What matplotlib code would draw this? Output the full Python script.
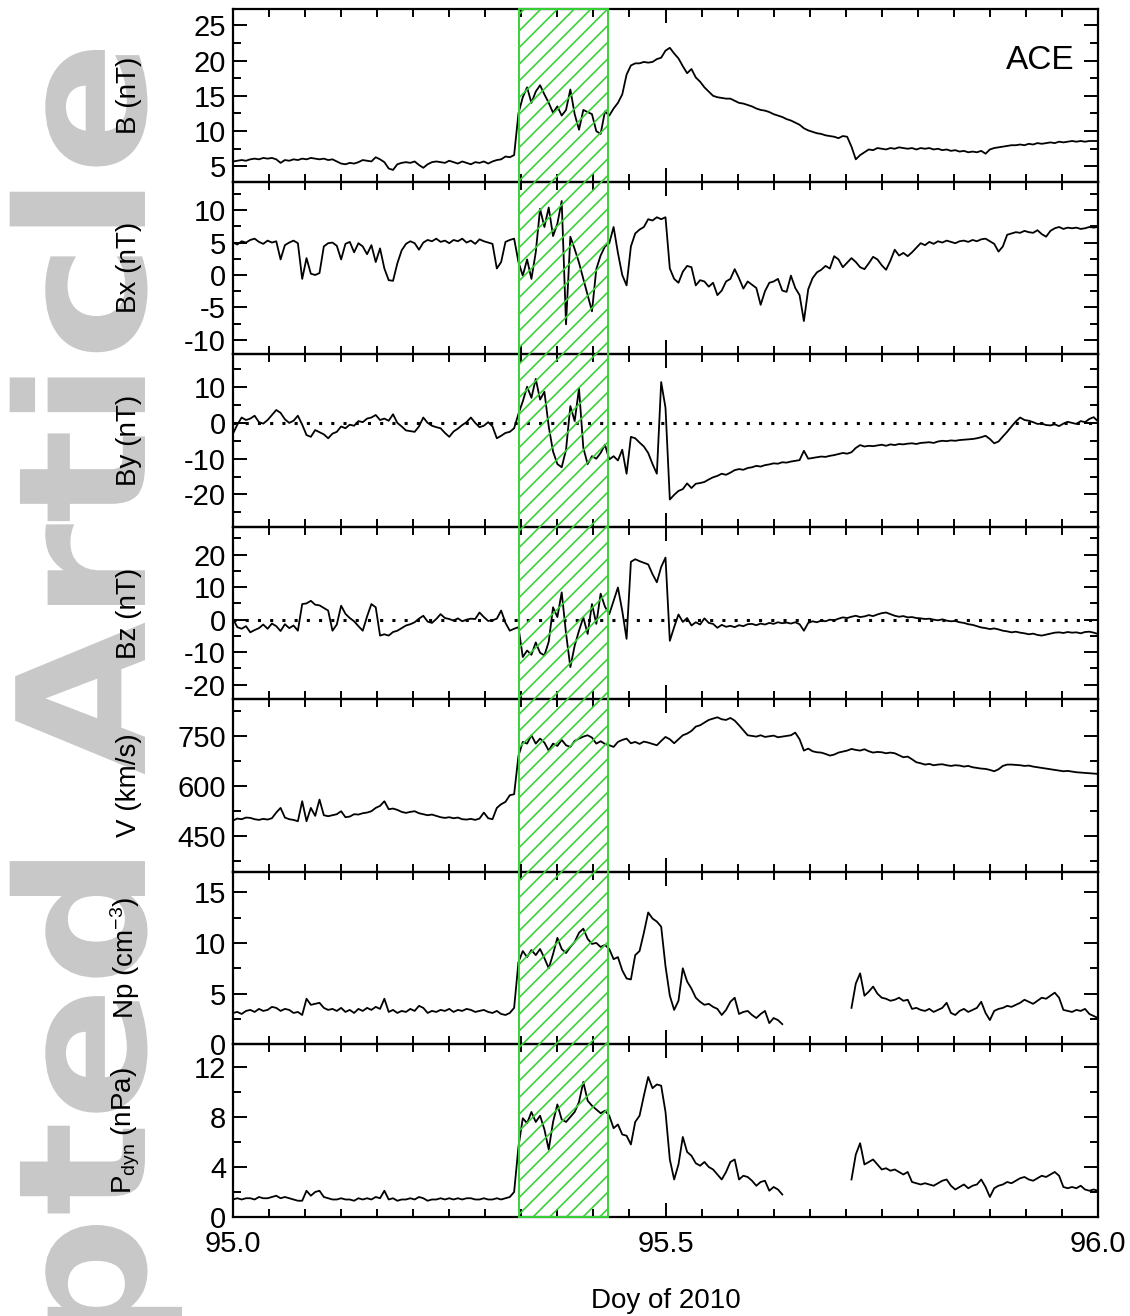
import numpy as np
import matplotlib.pyplot as plt
import matplotlib.transforms as mtransforms
from matplotlib.patches import Rectangle, PathPatch
from matplotlib.textpath import TextPath
from matplotlib.font_manager import FontProperties
from matplotlib.ticker import MultipleLocator, FormatStrFormatter

plt.rcParams['font.family'] = ['Liberation Sans', 'DejaVu Sans']
plt.rcParams['mathtext.fontset'] = 'custom'
plt.rcParams['mathtext.rm'] = 'Liberation Sans'
plt.rcParams['mathtext.default'] = 'regular'
plt.rcParams['axes.unicode_minus'] = False
plt.rcParams['hatch.linewidth'] = 1.2

nan = np.nan
# day of year 2010, one sample every 0.005 day
doy = 95 + 0.005 * np.arange(201)

B = [5.7,5.8,5.9,5.8,6.0,6.1,6.0,6.2,6.1,6.2,6.0,5.5,5.9,5.8,6.0,5.9,6.1,6.0,6.2,6.1,
     6.0,6.1,5.9,6.0,5.7,5.4,5.3,5.5,5.4,5.6,5.9,5.8,5.7,6.3,6.0,5.6,4.7,4.5,5.3,5.5,
     5.6,5.5,5.7,5.2,4.8,5.3,5.6,5.7,5.6,5.5,5.8,5.6,5.4,5.7,5.5,5.3,5.6,5.5,5.7,5.4,
     5.7,5.9,6.0,6.4,6.3,6.6,12.5,14.8,16.2,14.0,15.6,16.5,15.2,14.0,12.6,13.5,12.2,13.0,15.9,12.4,
     10.2,13.0,12.7,12.4,10.0,9.6,12.8,12.2,13.2,14.0,15.2,18.0,19.3,19.6,19.6,19.8,19.7,19.8,20.2,20.4,
     21.4,21.8,21.0,20.3,19.2,18.2,18.8,17.6,17.0,16.2,15.6,15.0,14.8,14.7,14.6,14.6,14.3,14.0,13.9,13.7,
     13.5,13.2,13.0,12.9,12.7,12.4,12.2,12.0,11.7,11.5,11.2,10.9,10.4,10.1,9.9,9.7,9.6,9.4,9.3,9.2,
     9.0,9.3,9.2,7.8,6.0,6.6,7.0,7.4,7.3,7.6,7.5,7.4,7.6,7.5,7.7,7.6,7.5,7.6,7.4,7.6,
     7.5,7.6,7.4,7.5,7.3,7.4,7.2,7.3,7.1,7.2,7.0,7.1,7.0,7.2,6.8,7.4,7.6,7.7,7.8,7.9,
     8.0,8.0,8.1,8.0,8.2,8.1,8.3,8.2,8.3,8.4,8.3,8.5,8.4,8.5,8.6,8.5,8.6,8.5,8.6,8.6,8.6]

Bx = [5.0,4.7,5.2,5.0,5.4,5.6,5.1,4.8,5.3,5.0,5.2,2.4,4.6,5.0,5.3,4.9,-0.6,2.6,0.2,0.0,
      0.3,4.4,4.9,5.0,4.5,2.4,4.8,5.1,3.5,4.9,4.4,3.2,4.6,2.0,4.1,1.0,-0.8,-0.9,1.8,3.8,
      4.8,5.2,4.9,3.9,5.0,5.4,5.2,5.6,5.1,5.3,4.9,5.4,5.2,5.6,5.0,5.3,4.8,5.5,5.2,5.0,
      4.8,1.0,2.0,5.1,5.4,5.6,2.0,-0.1,2.4,-0.6,3.5,10.2,7.4,10.4,6.0,7.9,11.4,-7.6,5.9,4.0,
      1.9,-0.6,-3.1,-5.6,0.9,3.0,4.4,4.9,7.4,3.4,0.0,-1.6,4.4,6.4,7.0,7.4,8.6,8.4,8.9,8.6,
      8.9,1.0,-0.6,-1.2,0.5,1.4,1.2,-1.6,-0.8,-1.0,-1.8,-1.2,-3.1,-2.4,-1.0,-0.6,0.9,-0.5,-2.1,-1.0,
      -1.5,-2.0,-4.6,-2.5,-1.2,-1.0,-0.6,-2.4,-2.6,-0.1,-2.0,-3.1,-7.1,-2.2,-0.5,0.4,0.8,1.4,1.0,2.9,
      2.4,1.2,1.9,2.6,2.0,1.2,0.9,1.8,2.8,2.4,1.5,0.8,2.2,3.9,3.0,3.4,2.9,3.5,4.2,4.9,
      4.6,5.1,4.8,5.2,5.0,5.3,5.1,4.9,5.2,5.3,5.1,5.4,5.2,5.5,5.6,5.2,4.8,3.6,4.4,6.2,
      6.4,6.6,6.5,6.8,6.6,6.5,6.9,6.3,5.9,6.8,7.2,7.4,7.1,7.3,7.2,7.3,7.1,7.2,7.4,7.3,7.4]

By = [-3.0,-0.5,1.5,0.8,1.2,2.0,0.2,-0.2,0.8,2.2,3.6,2.8,1.0,0.0,0.6,2.0,-0.5,-3.4,-3.9,-2.0,
      -2.6,-3.2,-4.3,-3.0,-2.5,-1.0,-1.5,-0.5,-0.8,0.5,0.2,1.2,1.5,2.2,0.8,1.2,0.6,2.4,0.0,-1.0,
      -2.1,-2.3,-2.5,-1.0,1.5,0.0,-0.8,-1.2,-1.5,-2.8,-3.9,-2.4,-1.6,-0.6,0.2,1.5,0.0,-1.2,-0.8,0.2,
      -1.0,-4.3,-3.6,-2.8,-2.5,-1.5,2.5,6.0,10.1,7.0,12.3,6.5,8.7,-1.0,-8.0,-11.5,-12.4,-7.5,4.7,0.5,
      9.6,-7.0,-11.5,-9.3,-10.0,-8.4,-6.1,-10.2,-9.3,-10.5,-7.5,-14.2,-3.9,-4.3,-5.5,-6.6,-8.4,-11.5,-14.2,11.4,
      4.2,-21.4,-20.1,-19.0,-18.5,-16.9,-18.2,-17.0,-16.8,-16.5,-15.8,-15.2,-14.8,-14.2,-14.5,-13.9,-13.2,-12.9,-13.1,-12.6,
      -12.4,-12.0,-12.2,-11.8,-11.6,-11.3,-11.4,-11.0,-11.1,-10.8,-10.6,-10.4,-7.8,-10.0,-9.8,-9.6,-9.4,-9.5,-9.2,-9.0,
      -8.7,-8.4,-8.6,-8.2,-7.0,-6.2,-6.6,-6.4,-6.5,-6.3,-6.1,-6.4,-6.0,-6.2,-5.9,-6.0,-5.8,-5.7,-5.9,-5.6,
      -5.5,-5.4,-5.6,-5.2,-5.0,-5.1,-4.9,-5.0,-4.8,-4.7,-4.6,-4.5,-4.3,-4.0,-3.6,-4.5,-5.7,-5.2,-3.8,-2.5,
      -1.0,0.4,1.5,0.8,0.6,0.2,-0.3,-0.2,-0.6,-0.7,-0.4,-0.9,-0.2,0.3,0.0,-0.3,0.5,0.2,1.1,1.6,0.4]

Bz = [0.2,-2.3,-2.8,-2.0,-3.9,-3.2,-2.6,-1.5,-2.8,-1.2,-2.0,-3.5,-1.4,-2.6,-1.8,-3.4,4.8,5.0,5.8,4.6,
      4.4,3.6,2.8,-3.4,-1.5,4.3,1.8,0.5,-0.5,-2.0,-3.4,1.0,4.8,3.8,-4.9,-4.5,-4.9,-3.8,-3.4,-2.6,
      -1.8,-1.4,-0.8,0.3,1.2,-0.6,-1.0,0.2,1.7,0.5,0.2,-0.3,0.4,-0.5,0.0,0.3,0.2,2.2,0.8,-0.4,
      -0.2,0.3,2.8,-1.0,-3.4,-2.8,-2.3,-11.5,-9.5,-10.8,-7.0,-10.2,-11.0,-6.8,3.8,0.8,8.4,-4.2,-14.6,-8.0,
      -3.4,0.7,-4.4,4.8,-1.3,8.0,4.0,1.7,5.8,9.9,2.7,-5.9,17.8,18.6,18.0,17.5,17.0,14.0,11.5,16.2,
      19.1,-6.5,-2.3,1.6,-0.7,0.5,-1.8,-0.8,-1.5,0.4,-1.0,-1.3,-2.5,-1.6,-2.2,-1.9,-2.3,-1.7,-2.0,-1.4,
      -1.3,-1.7,-1.2,-1.5,-1.0,-1.3,-0.8,-1.1,-0.9,-1.2,-0.8,-1.4,-3.4,-1.0,-0.5,-0.8,-0.3,-0.5,0.0,-0.2,
      0.3,0.7,0.5,0.9,1.2,0.8,1.0,1.4,1.1,1.6,2.0,2.2,1.7,1.2,0.9,1.1,0.7,0.8,0.5,0.4,
      0.2,0.3,0.0,-0.2,0.1,-0.3,-0.5,-0.4,-0.8,-1.0,-1.4,-1.6,-2.0,-2.4,-2.6,-2.9,-2.7,-3.0,-3.4,-3.6,
      -3.9,-3.7,-4.0,-4.2,-4.5,-4.3,-4.7,-4.9,-4.6,-4.3,-4.0,-3.9,-4.1,-3.8,-4.0,-3.9,-4.2,-3.8,-3.7,-4.0,-4.4]

V = [496,502,500,505,504,500,498,501,499,503,520,534,505,500,498,494,554,494,534,510,
     559,512,509,512,515,524,506,508,515,514,518,520,524,534,540,554,530,532,528,522,
     519,522,524,518,515,512,514,510,506,504,506,503,505,500,499,501,498,502,520,503,
     500,534,545,552,572,575,690,732,727,752,727,742,730,706,727,720,738,722,717,735,
     742,748,752,745,727,734,726,722,717,732,738,742,728,732,726,733,730,726,722,735,
     747,740,728,740,752,757,765,778,782,790,798,802,806,800,798,804,796,782,767,752,
     750,748,752,747,749,751,746,748,750,752,760,740,706,712,704,701,700,696,691,694,
     700,703,706,711,708,706,710,704,700,702,701,698,700,698,692,686,688,680,671,668,
     664,666,662,664,665,662,660,662,661,658,660,656,654,652,651,648,644,650,660,664,
     664,663,662,660,661,658,656,654,652,650,648,646,644,645,643,641,640,639,638,637,636]

Np = [3.1,3.2,3.0,3.3,3.4,3.2,3.5,3.3,3.4,3.7,3.6,3.3,3.5,3.4,3.1,3.2,2.9,4.5,3.9,4.0,
      4.1,3.6,3.4,3.5,3.3,3.6,3.2,3.4,3.1,3.5,3.3,3.6,3.4,3.7,3.5,4.5,3.2,3.4,3.1,3.3,
      3.2,3.5,3.3,3.8,3.6,3.1,3.3,3.2,3.4,3.3,3.5,3.2,3.4,3.3,3.5,3.4,3.2,3.3,3.4,3.2,
      3.1,3.3,3.0,2.9,3.1,3.6,8.1,9.2,8.6,9.3,8.8,9.4,8.5,7.5,8.9,10.5,9.4,9.0,9.6,10.1,
      11.0,11.4,10.4,9.9,10.0,9.6,9.8,9.4,8.4,8.6,7.3,6.5,6.4,8.8,9.2,11.0,13.0,12.4,12.1,11.6,
      7.7,4.8,3.4,4.3,7.5,6.2,5.5,4.6,4.2,3.9,4.0,3.7,3.5,2.9,3.4,4.2,4.6,3.0,3.2,3.3,
      2.9,2.6,3.0,3.3,2.1,2.6,2.4,2.0,nan,nan,nan,nan,nan,nan,nan,nan,nan,nan,nan,nan,
      nan,nan,nan,3.6,6.0,7.0,4.8,5.2,5.7,5.0,4.6,4.5,4.3,4.4,4.6,4.3,4.4,3.5,3.6,3.4,
      3.3,3.5,3.2,3.4,3.6,4.1,3.1,2.9,3.3,3.5,3.2,3.4,3.6,4.2,3.1,2.4,3.3,3.5,3.6,3.8,
      3.7,3.9,4.1,4.4,4.2,4.0,4.3,4.6,4.5,4.8,5.1,4.6,3.4,3.3,3.2,3.4,3.3,3.5,3.0,2.8,2.6]

Pdyn = [1.4,1.5,1.4,1.5,1.5,1.4,1.6,1.5,1.5,1.6,1.7,1.5,1.6,1.5,1.4,1.3,1.3,2.1,1.7,2.0,
        2.1,1.6,1.5,1.4,1.4,1.5,1.4,1.4,1.3,1.5,1.4,1.5,1.4,1.6,1.5,2.1,1.4,1.5,1.3,1.4,
        1.4,1.5,1.4,1.6,1.5,1.3,1.4,1.4,1.5,1.4,1.5,1.4,1.5,1.4,1.5,1.5,1.4,1.4,1.5,1.4,
        1.4,1.5,1.4,1.5,1.6,2.0,5.6,7.9,7.5,8.4,7.6,8.1,7.0,5.4,7.6,9.0,7.8,7.6,8.0,8.4,
        9.2,10.8,9.3,8.9,8.6,8.3,8.5,8.1,7.1,7.4,6.6,6.5,5.8,7.6,8.1,9.7,11.2,10.3,10.6,10.5,
        8.4,4.6,3.0,4.2,6.4,5.2,4.9,4.3,4.1,4.4,4.0,3.8,3.4,3.0,3.6,4.4,4.6,3.0,3.3,3.2,
        2.9,2.5,2.8,2.9,2.1,2.4,2.2,1.8,nan,nan,nan,nan,nan,nan,nan,nan,nan,nan,nan,nan,
        nan,nan,nan,3.0,5.0,5.9,4.2,4.4,4.6,4.2,3.8,3.9,3.7,3.8,3.6,3.4,3.6,2.8,2.7,2.6,
        2.7,2.6,2.5,2.7,2.9,3.0,2.5,2.2,2.4,2.6,2.3,2.5,2.6,3.0,2.4,1.6,2.3,2.5,2.6,2.8,
        2.7,2.9,3.1,3.2,3.0,2.9,3.1,3.3,3.2,3.4,3.6,3.3,2.4,2.3,2.4,2.3,2.5,2.2,2.1,2.2,2.1]

labels = ['B (nT)', 'Bx (nT)', 'By (nT)', 'Bz (nT)', 'V (km/s)',
          'Np (cm$^{-3}$)', 'P$_{dyn}$ (nPa)']
ylims = [(2.85, 27.3), (-12.2, 14.4), (-29, 19.2), (-24.5, 28.6), (342, 860), (0, 17), (0, 13.8)]
ymajor = [5, 5, 10, 10, 150, 5, 4]
yminor = [2.5, 2.5, 5, 5, 75, 2.5, 2]
event = (95.331, 95.434)   # hatched interval
green = '#3ad13a'

fig = plt.figure(figsize=(11.3, 13.16), dpi=100)
left, right = 233/1130, 1098/1130
top, bottom = 1 - 9/1316, 1 - 1217/1316
h = (top - bottom) / 7

# watermark, stretched along the page height
fp = FontProperties(family='DejaVu Sans', weight='bold')
wm = TextPath((0, 0), 'Accepted Article', size=1, prop=fp)
u_end = wm.get_extents().x1
u_t = TextPath((0, 0), 'Accep', size=1, prop=fp).get_extents().x1
sx = (1266 - 91) / (u_end - u_t)
sy = 130 / 0.73
wtr = mtransforms.Affine2D().scale(sx, sy).rotate_deg(90).translate(145, 91 - u_t * sx)
fig.add_artist(PathPatch(wm, transform=wtr, facecolor='#c8c8c8',
                         edgecolor='none', zorder=-1))

series = [B, Bx, By, Bz, V, Np, Pdyn]
axes = []
for k, y in enumerate(series):
    ax = fig.add_axes([left, top - (k + 1) * h, right - left, h])
    ax.patch.set_alpha(0)
    ax.plot(doy[:len(y)], y, color='k', lw=1.3)
    if k in (2, 3):
        ax.axhline(0, color='k', lw=2.2, ls=(0, (1, 3)))
    ax.set_xlim(95, 96)
    ax.set_ylim(ylims[k])
    ax.xaxis.set_major_locator(MultipleLocator(0.5))
    ax.xaxis.set_minor_locator(MultipleLocator(1/24))
    ax.yaxis.set_major_locator(MultipleLocator(ymajor[k]))
    ax.yaxis.set_minor_locator(MultipleLocator(yminor[k]))
    ax.tick_params(which='both', direction='in', top=True, right=True,
                   labelsize=21, width=1.4)
    ax.tick_params(which='major', length=10, pad=5)
    ax.tick_params(which='minor', length=6)
    for s in ax.spines.values():
        s.set_linewidth(1.6)
    ax.set_ylabel(labels[k], fontsize=20)
    ax.yaxis.set_label_coords(-0.105, 0.5)
    if k < 6:
        ax.tick_params(labelbottom=False)
    axes.append(ax)

axes[-1].xaxis.set_major_formatter(FormatStrFormatter('%.1f'))
axes[-1].tick_params(axis='x', pad=9)
axes[-1].set_xlabel('Doy of 2010', fontsize=20, labelpad=22)
axes[0].text(0.933, 0.70, 'ACE', transform=axes[0].transAxes,
             ha='center', va='center', fontsize=24)

trans = mtransforms.blended_transform_factory(axes[-1].transData, fig.transFigure)
rect = Rectangle((event[0], bottom), event[1] - event[0], top - bottom,
                 transform=trans, fill=False, edgecolor=green, hatch='//',
                 lw=1.4, zorder=5)
fig.add_artist(rect)

fig.savefig('out.png', dpi=100)
